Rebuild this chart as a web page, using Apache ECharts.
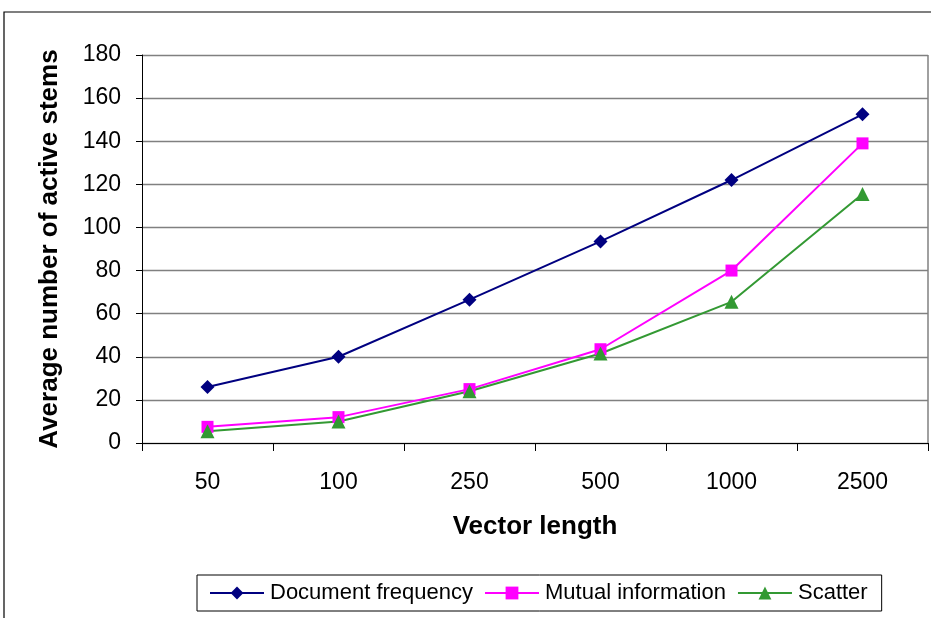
<!DOCTYPE html>
<html><head><meta charset="utf-8">
<script src="https://cdn.jsdelivr.net/npm/echarts@6/dist/echarts.min.js"></script>
<style>html,body{margin:0;padding:0;background:#fff}#c{width:931px;height:618px}</style>
</head><body><div id="c"></div>
<script>
var categories = ['50','100','250','500','1000','2500'];
var docFreq = [26, 40, 66.5, 93.5, 122, 152.5];
var mutualInfo = [7.5, 12, 25, 43.5, 80, 139];
var scatter = [5.5, 10, 24, 41.5, 65.5, 115.5];
var seriesNames = ['Document frequency','Mutual information','Scatter'];
var xTitle = 'Vector length';
var yTitle = 'Average number of active stems';

var chart = echarts.init(document.getElementById('c'), null, {renderer:'canvas'});
var font = 'Liberation Sans, Arial, sans-serif';
chart.setOption({
  animation:false,
  backgroundColor:'#fff',
  textStyle:{fontFamily:font},
  graphic:[{type:'rect',shape:{x:4,y:12,width:1000,height:700},style:{fill:'none',stroke:'#000',lineWidth:1.2},silent:true},
           {type:'line',shape:{x1:928,y1:55,x2:928,y2:443},style:{stroke:'#808080',lineWidth:1.5},silent:true}],
  grid:{left:142,top:55,right:3,bottom:175,containLabel:false},
  legend:{
    left:197,top:575,
    padding:[7,14,7,12],
    borderColor:'#000',borderWidth:1,
    itemGap:11,itemWidth:54,itemHeight:16,
    textStyle:{fontFamily:font,fontSize:22,color:'#000',padding:[0,0,0,1]},
    data:seriesNames
  },
  xAxis:{
    type:'category',data:categories,boundaryGap:true,
    name:xTitle,nameLocation:'middle',nameGap:71,
    nameTextStyle:{fontFamily:font,fontSize:26,fontWeight:'bold',color:'#000'},
    axisLine:{lineStyle:{color:'#000',width:1}},
    axisTick:{show:true,alignWithLabel:false,length:8,inside:false,lineStyle:{color:'#000'}},
    axisLabel:{fontFamily:font,fontSize:23,color:'#000',margin:28}
  },
  yAxis:{
    type:'value',min:0,max:180,interval:20,
    name:yTitle,nameLocation:'middle',nameGap:79,
    nameTextStyle:{fontFamily:font,fontSize:26,fontWeight:'bold',color:'#000'},
    axisLine:{show:true,lineStyle:{color:'#000',width:1}},
    axisTick:{show:true,length:6,lineStyle:{color:'#000'}},
    axisLabel:{fontFamily:font,fontSize:23,color:'#000',margin:21},
    splitLine:{show:true,lineStyle:{color:'#808080',width:1.3}}
  },
  series:[
    {name:seriesNames[0],type:'line',data:docFreq,symbol:'diamond',symbolSize:14,
     lineStyle:{color:'#000080',width:2},itemStyle:{color:'#000080'}},
    {name:seriesNames[1],type:'line',data:mutualInfo,symbol:'rect',symbolSize:12,
     lineStyle:{color:'#ff00ff',width:2},itemStyle:{color:'#ff00ff'}},
    {name:seriesNames[2],type:'line',data:scatter,symbol:'triangle',symbolSize:14,
     lineStyle:{color:'#339933',width:2},itemStyle:{color:'#339933'}}
  ]
});
</script></body></html>
